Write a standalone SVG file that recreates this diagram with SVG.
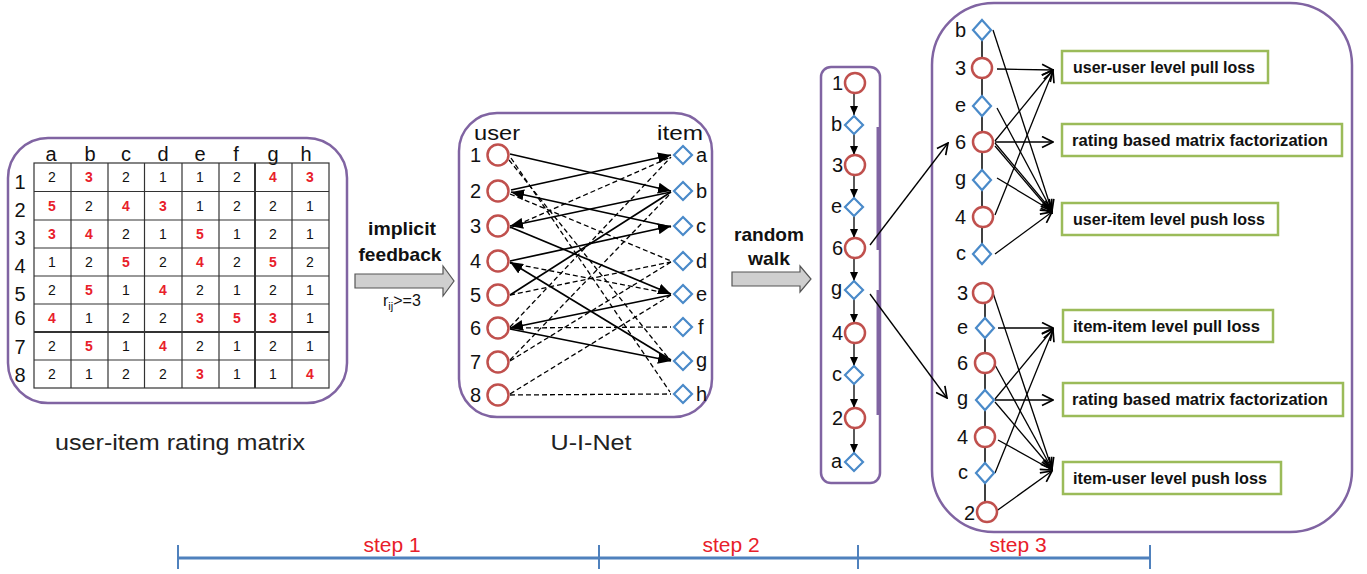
<svg xmlns="http://www.w3.org/2000/svg" width="1367" height="574" viewBox="0 0 1367 574">
  <style>
    text { font-family: "Liberation Sans", Arial, sans-serif; fill: #111; }
    .panel { fill: none; stroke: #8064a2; stroke-width: 2.5; }
    .grid { stroke: #333; stroke-width: 1.2; }
    .cell { font-size: 14px; text-anchor: middle; }
    .hi { fill: #e8202a; font-weight: bold; }
    .hdr { font-size: 20px; text-anchor: middle; }
    .user { fill: #fff; stroke: #c0504d; stroke-width: 2.5; }
    .item { fill: #fff; stroke: #4a8ac9; stroke-width: 2.2; }
    .lbl { font-size: 20px; }
    .solid { stroke: #000; stroke-width: 1.7; fill: none; }
    .dash { stroke: #000; stroke-width: 1.3; fill: none; stroke-dasharray: 5 3; }
    .thin { stroke: #000; stroke-width: 1.3; fill: none; }
    .box { fill: #fff; stroke: #9bbb59; stroke-width: 2.5; }
    .boxt { font-size: 16px; font-weight: bold; }
    .bold { font-size: 18.5px; font-weight: bold; text-anchor: middle; }
    .garrow { fill: #cfcfcf; stroke: #555; stroke-width: 1.2; }
    .step { fill: #e8202a; font-size: 21px; text-anchor: middle; }
    .cap { font-size: 22px; text-anchor: middle; fill: #222; }
  </style>
  <defs>
    <marker id="tri" markerWidth="13" markerHeight="11" refX="13" refY="5.5" orient="auto" markerUnits="userSpaceOnUse">
      <path d="M0,0 L13,5.5 L0,11 Z" fill="#000"/>
    </marker>
    <marker id="tri-s" markerWidth="9" markerHeight="8" refX="9" refY="4" orient="auto" markerUnits="userSpaceOnUse">
      <path d="M0,0 L9,4 L0,8 Z" fill="#000"/>
    </marker>
    <marker id="vee" markerWidth="13" markerHeight="13" refX="12" refY="6.5" orient="auto" markerUnits="userSpaceOnUse">
      <path d="M1,1 L12,6.5 L1,12" fill="none" stroke="#000" stroke-width="1.7"/>
    </marker>
  </defs>

  <!-- step 1: user-item rating matrix -->
  <g id="rating-matrix">
    <rect class="panel" x="8" y="138" width="339" height="265" rx="40"/>
    <g class="hdr">
      <text x="51" y="161">a</text><text x="90" y="161">b</text><text x="126" y="161">c</text><text x="163" y="161">d</text>
      <text x="200" y="161">e</text><text x="236" y="161">f</text><text x="273" y="161">g</text><text x="306" y="161">h</text>
    </g>
    <g class="hdr">
      <text x="20" y="189">1</text><text x="20" y="217">2</text><text x="20" y="245">3</text><text x="20" y="273">4</text>
      <text x="20" y="301">5</text><text x="20" y="325">6</text><text x="20" y="354">7</text><text x="20" y="382">8</text>
    </g>
    <g class="grid">
      <rect x="34" y="163" width="295" height="225" fill="none"/>
      <line x1="71" y1="163" x2="71" y2="388"/><line x1="108" y1="163" x2="108" y2="388"/>
      <line x1="144.5" y1="163" x2="144.5" y2="388"/><line x1="182" y1="163" x2="182" y2="388"/>
      <line x1="219" y1="163" x2="219" y2="388"/><line x1="255" y1="163" x2="255" y2="388" stroke-width="2"/>
      <line x1="292" y1="163" x2="292" y2="388"/>
      <line x1="34" y1="191.5" x2="329" y2="191.5"/><line x1="34" y1="220" x2="329" y2="220"/>
      <line x1="34" y1="248" x2="329" y2="248"/><line x1="34" y1="276" x2="329" y2="276"/>
      <line x1="34" y1="304" x2="329" y2="304"/><line x1="34" y1="332" x2="329" y2="332" stroke-width="2"/>
      <line x1="34" y1="360" x2="329" y2="360"/>
    </g>
    <g class="cell">
      <text x="52" y="182">2</text><text x="89" y="182" class="hi">3</text><text x="126" y="182">2</text><text x="163" y="182">1</text><text x="200" y="182">1</text><text x="237" y="182">2</text><text x="273" y="182" class="hi">4</text><text x="310" y="182" class="hi">3</text>
      <text x="52" y="211" class="hi">5</text><text x="89" y="211">2</text><text x="126" y="211" class="hi">4</text><text x="163" y="211" class="hi">3</text><text x="200" y="211">1</text><text x="237" y="211">2</text><text x="273" y="211">2</text><text x="310" y="211">1</text>
      <text x="52" y="239" class="hi">3</text><text x="89" y="239" class="hi">4</text><text x="126" y="239">2</text><text x="163" y="239">1</text><text x="200" y="239" class="hi">5</text><text x="237" y="239">1</text><text x="273" y="239">2</text><text x="310" y="239">1</text>
      <text x="52" y="267">1</text><text x="89" y="267">2</text><text x="126" y="267" class="hi">5</text><text x="163" y="267">2</text><text x="200" y="267" class="hi">4</text><text x="237" y="267">2</text><text x="273" y="267" class="hi">5</text><text x="310" y="267">2</text>
      <text x="52" y="295">2</text><text x="89" y="295" class="hi">5</text><text x="126" y="295">1</text><text x="163" y="295" class="hi">4</text><text x="200" y="295">2</text><text x="237" y="295">1</text><text x="273" y="295">2</text><text x="310" y="295">1</text>
      <text x="52" y="323" class="hi">4</text><text x="89" y="323">1</text><text x="126" y="323">2</text><text x="163" y="323">2</text><text x="200" y="323" class="hi">3</text><text x="237" y="323" class="hi">5</text><text x="273" y="323" class="hi">3</text><text x="310" y="323">1</text>
      <text x="52" y="351">2</text><text x="89" y="351" class="hi">5</text><text x="126" y="351">1</text><text x="163" y="351" class="hi">4</text><text x="200" y="351">2</text><text x="237" y="351">1</text><text x="273" y="351">2</text><text x="310" y="351">1</text>
      <text x="52" y="379">2</text><text x="89" y="379">1</text><text x="126" y="379">2</text><text x="163" y="379">2</text><text x="200" y="379" class="hi">3</text><text x="237" y="379">1</text><text x="273" y="379">1</text><text x="310" y="379" class="hi">4</text>
    </g>
    <text class="cap" x="180" y="450" textLength="250" lengthAdjust="spacingAndGlyphs">user-item rating matrix</text>
  </g>

  <!-- implicit feedback arrow -->
  <g id="implicit-feedback">
    <text class="bold" x="402" y="235" textLength="68" lengthAdjust="spacingAndGlyphs">implicit</text>
    <text class="bold" x="400" y="261" textLength="83" lengthAdjust="spacingAndGlyphs">feedback</text>
    <polygon class="garrow" points="355,274 443,274 443,266 454,281 443,296 443,288 355,288"/>
    <text x="383" y="306" style="font-size:16px">r<tspan dy="4" style="font-size:11px">ij</tspan><tspan dy="-4">&gt;=3</tspan></text>
  </g>

  <!-- step 1 result: U-I-Net bipartite graph -->
  <g id="ui-net">
    <rect class="panel" x="459" y="113" width="253" height="304" rx="38"/>
    <text class="lbl" x="474" y="140" textLength="46" lengthAdjust="spacingAndGlyphs">user</text>
    <text class="lbl" x="657" y="140" textLength="46" lengthAdjust="spacingAndGlyphs">item</text>
    <text class="cap" x="591" y="450" textLength="81" lengthAdjust="spacingAndGlyphs">U-I-Net</text>
  </g>

  <g id="ui-net-edges">
    <!-- ratings >= 3 not on the walk -->
    <path class="dash" d="M509,160 L669,359"/>
    <path class="dash" d="M511,158 L670,392"/>
    <path class="dash" d="M510,194 L671,261"/>
    <path class="dash" d="M510,228 L671,157"/>
    <path class="dash" d="M510,263 L671,294"/>
    <path class="dash" d="M510,295 L671,262"/>
    <path class="dash" d="M510,327 L671,157"/>
    <path class="dash" d="M510,328 L671,327"/>
    <path class="dash" d="M510,360 L671,193"/>
    <path class="dash" d="M510,361 L671,262"/>
    <path class="dash" d="M510,394 L671,295"/>
    <path class="dash" d="M510,395 L671,394"/>
    <path class="solid" d="M510,295 L671,192"/>
    <!-- walk 1-b-3-e-6-g-4-c-2-a -->
    <path class="solid" d="M510,154 L671,191" marker-end="url(#tri)"/>
    <path class="solid" d="M671,192 L510,226" marker-end="url(#tri)"/>
    <path class="solid" d="M510,227 L671,294" marker-end="url(#tri)"/>
    <path class="solid" d="M671,295 L510,328" marker-end="url(#tri)"/>
    <path class="solid" d="M510,329 L671,361" marker-end="url(#tri)"/>
    <path class="solid" d="M671,360 L510,262" marker-end="url(#tri)"/>
    <path class="solid" d="M510,261 L671,226" marker-end="url(#tri)"/>
    <path class="solid" d="M671,227 L511,192" marker-end="url(#tri)"/>
    <path class="solid" d="M511,190 L671,155" marker-end="url(#tri)"/>
  </g>

  <g id="ui-users" class="lbl">
    <g id="u1"><circle class="user" cx="498" cy="155" r="10.5"/><text x="470" y="162">1</text></g>
    <g id="u2"><circle class="user" cx="498" cy="191" r="10.5"/><text x="470" y="198">2</text></g>
    <g id="u3"><circle class="user" cx="498" cy="226" r="10.5"/><text x="470" y="233">3</text></g>
    <g id="u4"><circle class="user" cx="498" cy="261" r="10.5"/><text x="470" y="268">4</text></g>
    <g id="u5"><circle class="user" cx="498" cy="295" r="10.5"/><text x="470" y="302">5</text></g>
    <g id="u6"><circle class="user" cx="498" cy="328" r="10.5"/><text x="470" y="335">6</text></g>
    <g id="u7"><circle class="user" cx="498" cy="362" r="10.5"/><text x="470" y="369">7</text></g>
    <g id="u8"><circle class="user" cx="498" cy="395" r="10.5"/><text x="470" y="402">8</text></g>
  </g>
  <g id="ui-items" class="lbl">
    <g id="ia"><path class="item" d="M683,146 L692,155 L683,164 L674,155 Z"/><text x="696" y="162">a</text></g>
    <g id="ib"><path class="item" d="M683,182 L692,191 L683,200 L674,191 Z"/><text x="696" y="198">b</text></g>
    <g id="ic"><path class="item" d="M683,217 L692,226 L683,235 L674,226 Z"/><text x="696" y="233">c</text></g>
    <g id="id"><path class="item" d="M683,252 L692,261 L683,270 L674,261 Z"/><text x="696" y="268">d</text></g>
    <g id="ie"><path class="item" d="M683,285 L692,294 L683,303 L674,294 Z"/><text x="696" y="301">e</text></g>
    <g id="if"><path class="item" d="M683,318 L692,327 L683,336 L674,327 Z"/><text x="698" y="334">f</text></g>
    <g id="ig"><path class="item" d="M683,352 L692,361 L683,370 L674,361 Z"/><text x="696" y="367">g</text></g>
    <g id="ih"><path class="item" d="M683,385 L692,394 L683,403 L674,394 Z"/><text x="696" y="401">h</text></g>
  </g>

  <!-- random walk arrow -->
  <g id="random-walk-arrow">
    <text class="bold" x="769" y="241" textLength="70" lengthAdjust="spacingAndGlyphs">random</text>
    <text class="bold" x="769" y="265" textLength="42" lengthAdjust="spacingAndGlyphs">walk</text>
    <polygon class="garrow" points="732,272 800,272 800,266 811,279 800,292 800,286 732,286"/>
  </g>

  <!-- step 2: one walk sequence -->
  <g id="walk-sequence">
    <rect class="panel" x="821" y="67" width="59" height="416" rx="10"/>
    <line x1="878" y1="127" x2="878" y2="250" stroke="#8064a2" stroke-width="3"/>
    <line x1="878" y1="290" x2="878" y2="415" stroke="#8064a2" stroke-width="3"/>
    <g class="thin">
      <line x1="854" y1="93" x2="854" y2="115" marker-end="url(#tri-s)"/>
      <line x1="854" y1="134" x2="854" y2="155" marker-end="url(#tri-s)"/>
      <line x1="854" y1="175" x2="854" y2="198" marker-end="url(#tri-s)"/>
      <line x1="854" y1="216" x2="854" y2="238" marker-end="url(#tri-s)"/>
      <line x1="854" y1="258" x2="854" y2="281" marker-end="url(#tri-s)"/>
      <line x1="854" y1="299" x2="854" y2="323" marker-end="url(#tri-s)"/>
      <line x1="854" y1="343" x2="854" y2="366" marker-end="url(#tri-s)"/>
      <line x1="854" y1="384" x2="854" y2="408" marker-end="url(#tri-s)"/>
      <line x1="854" y1="428" x2="854" y2="453" marker-end="url(#tri-s)"/>
    </g>
    <g class="lbl" style="text-anchor:end">
      <g id="w1"><circle class="user" cx="855" cy="83" r="10"/><text x="843" y="90">1</text></g>
      <g id="wb"><path class="item" d="M854,116 L863,125 L854,134 L845,125 Z"/><text x="842" y="131">b</text></g>
      <g id="w3"><circle class="user" cx="855" cy="165" r="10"/><text x="843" y="172">3</text></g>
      <g id="we"><path class="item" d="M854,198 L863,207 L854,216 L845,207 Z"/><text x="842" y="213">e</text></g>
      <g id="w6"><circle class="user" cx="855" cy="248" r="10"/><text x="843" y="255">6</text></g>
      <g id="wg"><path class="item" d="M854,281 L863,290 L854,299 L845,290 Z"/><text x="842" y="295">g</text></g>
      <g id="w4"><circle class="user" cx="855" cy="333" r="10"/><text x="843" y="340">4</text></g>
      <g id="wc"><path class="item" d="M854,366 L863,375 L854,384 L845,375 Z"/><text x="842" y="381">c</text></g>
      <g id="w2"><circle class="user" cx="855" cy="418" r="10"/><text x="843" y="425">2</text></g>
      <g id="wa"><path class="item" d="M854,453 L863,462 L854,471 L845,462 Z"/><text x="842" y="468">a</text></g>
    </g>
  </g>

  <!-- step 3: windowed losses -->
  <g id="loss-panel">
    <rect class="panel" x="932" y="3" width="420" height="529" rx="62"/>
  </g>

  <g id="connectors">
    <line class="thin" x1="870" y1="245" x2="948" y2="143" marker-end="url(#vee)"/>
    <line class="thin" x1="870" y1="294" x2="947" y2="398" marker-end="url(#vee)"/>
    <!-- user window around 6 -->
    <line x1="982" y1="30" x2="982" y2="254" stroke="#000" stroke-width="1.5"/>
    <g class="thin">
      <line x1="993" y1="30" x2="1052" y2="211" marker-end="url(#vee)"/>
      <line x1="997" y1="69" x2="1053" y2="70" marker-end="url(#vee)"/>
      <line x1="997" y1="108" x2="1052" y2="211" marker-end="url(#vee)"/>
      <line x1="995" y1="141" x2="1053" y2="70" marker-end="url(#vee)"/>
      <line x1="995" y1="142" x2="1053" y2="142" marker-end="url(#vee)"/>
      <line x1="995" y1="143" x2="1052" y2="211" marker-end="url(#vee)"/>
      <line x1="995" y1="146" x2="1052" y2="213" marker-end="url(#vee)"/>
      <line x1="997" y1="178" x2="1052" y2="211" marker-end="url(#vee)"/>
      <line x1="995" y1="215" x2="1053" y2="71" marker-end="url(#vee)"/>
      <line x1="995" y1="254" x2="1052" y2="212" marker-end="url(#vee)"/>
    </g>
    <!-- item window around g -->
    <line x1="985" y1="293" x2="985" y2="510" stroke="#000" stroke-width="1.5"/>
    <g class="thin">
      <line x1="993" y1="293" x2="1052" y2="469" marker-end="url(#vee)"/>
      <line x1="998" y1="328" x2="1053" y2="328" marker-end="url(#vee)"/>
      <line x1="995" y1="365" x2="1052" y2="469" marker-end="url(#vee)"/>
      <line x1="995" y1="399" x2="1053" y2="329" marker-end="url(#vee)"/>
      <line x1="995" y1="400" x2="1053" y2="400" marker-end="url(#vee)"/>
      <line x1="995" y1="402" x2="1052" y2="469" marker-end="url(#vee)"/>
      <line x1="998" y1="440" x2="1052" y2="470" marker-end="url(#vee)"/>
      <line x1="995" y1="473" x2="1053" y2="330" marker-end="url(#vee)"/>
      <line x1="995" y1="512" x2="1052" y2="471" marker-end="url(#vee)"/>
    </g>
  </g>

  <g id="user-window" class="lbl" style="text-anchor:end">
    <g id="t-b"><path class="item" d="M982,20 L991,30 L982,40 L973,30 Z"/><text x="966" y="37">b</text></g>
    <g id="t-3"><circle class="user" cx="982" cy="68" r="10"/><text x="966" y="75">3</text></g>
    <g id="t-e"><path class="item" d="M982,96 L991,106 L982,116 L973,106 Z"/><text x="966" y="112">e</text></g>
    <g id="t-6"><circle class="user" cx="983" cy="142" r="10"/><text x="966" y="149" fill="#e8202a">6</text></g>
    <g id="t-g"><path class="item" d="M982,170 L991,180 L982,190 L973,180 Z"/><text x="966" y="185">g</text></g>
    <g id="t-4"><circle class="user" cx="983" cy="217" r="10"/><text x="966" y="224">4</text></g>
    <g id="t-c"><path class="item" d="M982,244 L991,254 L982,264 L973,254 Z"/><text x="966" y="260">c</text></g>
  </g>
  <g id="item-window" class="lbl" style="text-anchor:end">
    <g id="s-3"><circle class="user" cx="983" cy="293" r="10"/><text x="968" y="300">3</text></g>
    <g id="s-e"><path class="item" d="M985,318 L994,328 L985,338 L976,328 Z"/><text x="968" y="334">e</text></g>
    <g id="s-6"><circle class="user" cx="985" cy="363" r="10"/><text x="968" y="370">6</text></g>
    <g id="s-g"><path class="item" d="M985,390 L994,400 L985,410 L976,400 Z"/><text x="968" y="405" fill="#e8202a">g</text></g>
    <g id="s-4"><circle class="user" cx="985" cy="437" r="10"/><text x="968" y="444">4</text></g>
    <g id="s-c"><path class="item" d="M985,463 L994,473 L985,483 L976,473 Z"/><text x="968" y="479">c</text></g>
    <g id="s-2"><circle class="user" cx="987" cy="512" r="10"/><text x="975" y="520">2</text></g>
  </g>

  <g id="loss-boxes">
    <g id="uu-pull"><rect class="box" x="1062" y="51" width="206" height="32"/><text class="boxt" x="1073" y="73" textLength="182" lengthAdjust="spacingAndGlyphs">user-user level pull loss</text></g>
    <g id="u-mf"><rect class="box" x="1062" y="124" width="280" height="32"/><text class="boxt" x="1072" y="146" textLength="256" lengthAdjust="spacingAndGlyphs">rating based matrix factorization</text></g>
    <g id="ui-push"><rect class="box" x="1062" y="203" width="216" height="32"/><text class="boxt" x="1073" y="225" textLength="192" lengthAdjust="spacingAndGlyphs">user-item level push loss</text></g>
    <g id="ii-pull"><rect class="box" x="1063" y="310" width="210" height="32"/><text class="boxt" x="1073" y="332" textLength="187" lengthAdjust="spacingAndGlyphs">item-item level pull loss</text></g>
    <g id="i-mf"><rect class="box" x="1063" y="383" width="280" height="33"/><text class="boxt" x="1072" y="405" textLength="256" lengthAdjust="spacingAndGlyphs">rating based matrix factorization</text></g>
    <g id="iu-push"><rect class="box" x="1063" y="462" width="218" height="32"/><text class="boxt" x="1073" y="484" textLength="194" lengthAdjust="spacingAndGlyphs">item-user level push loss</text></g>
  </g>

  <!-- timeline -->
  <g id="timeline">
    <line x1="178" y1="558" x2="1150" y2="558" stroke="#4f81bd" stroke-width="3"/>
    <g stroke="#4f81bd" stroke-width="2">
      <line x1="178" y1="545" x2="178" y2="569"/>
      <line x1="599" y1="545" x2="599" y2="569"/>
      <line x1="858" y1="545" x2="858" y2="569"/>
      <line x1="1150" y1="545" x2="1150" y2="569"/>
    </g>
    <text class="step" x="392" y="552">step 1</text>
    <text class="step" x="731" y="552">step 2</text>
    <text class="step" x="1018" y="552">step 3</text>
  </g>
</svg>
